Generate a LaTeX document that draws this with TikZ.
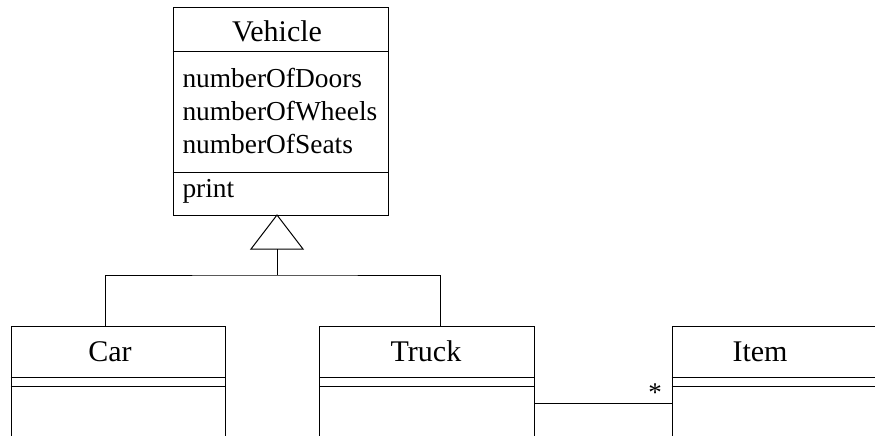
\documentclass[tikz,border=0pt]{standalone}
\usepackage{fontspec}
\setmainfont{Liberation Serif}
\begin{document}
\begin{tikzpicture}[x=1pt,y=-1pt,
  line width=1pt,
  classbox/.style={draw, rectangle, inner sep=0pt},
  titletext/.style={anchor=base, inner sep=0pt, font=\fontsize{30}{36}\selectfont},
  attrtext/.style={anchor=base west, inner sep=0pt, font=\fontsize{27.4}{33}\selectfont},
  startext/.style={anchor=base, inner sep=0pt, font=\fontsize{27}{32}\selectfont}]
\useasboundingbox (0,0) rectangle (875,436);
\clip (0,0) rectangle (875,436);
% Vehicle
\node[classbox, minimum width=215pt, minimum height=207pt] (veh) at (280.5,111.5) {};
\draw (veh.west |- 0,51.5) -- (veh.east |- 0,51.5);
\draw (veh.west |- 0,172) -- (veh.east |- 0,172);
\node[titletext] (vt) at (277,42) {Vehicle};
\node[attrtext] (a1) at (182,87) {numberOfDoors};
\node[attrtext] (a2) at (182,120) {numberOfWheels};
\node[attrtext] (a3) at (182,153) {numberOfSeats};
\node[attrtext] (m1) at (182,197) {print};
% Car
\node[classbox, minimum width=214pt, minimum height=160pt] (car) at (118,406) {};
\draw (car.west |- 0,377) -- (car.east |- 0,377);
\draw (car.west |- 0,386) -- (car.east |- 0,386);
\node[titletext] (ct) at (110,361) {Car};
% Truck
\node[classbox, minimum width=215pt, minimum height=160pt] (truck) at (427,406) {};
\draw (truck.west |- 0,377) -- (truck.east |- 0,377);
\draw (truck.west |- 0,386) -- (truck.east |- 0,386);
\node[titletext] (tt) at (426,361) {Truck};
% Item
\node[classbox, minimum width=260pt, minimum height=160pt] (item) at (802,406) {};
\draw (item.west |- 0,377) -- (item.east |- 0,377);
\draw (item.west |- 0,386) -- (item.east |- 0,386);
\node[titletext] (it) at (760,361) {Item};
% Generalization
\coordinate (apex) at (277,215);
\coordinate (tl) at (251,249);
\coordinate (tr) at (303,249);
\coordinate (tb) at (277,249);
\coordinate (junc) at (277,275);
\coordinate (carin) at (105,326);
\coordinate (truckin) at (440,326);
\draw (apex) -- (tl) -- (tr) -- cycle;
\draw (tb) -- (junc);
\draw (carin) |- (junc) -| (truckin);
% Association
\draw (truck.east |- 0,403) -- (item.west |- 0,403);
\node[startext] (star) at (655,401) {*};
\end{tikzpicture}
\end{document}
